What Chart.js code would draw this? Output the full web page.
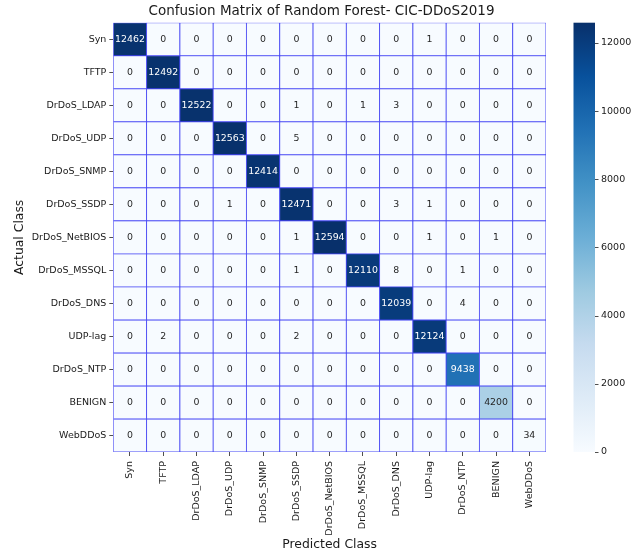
<!DOCTYPE html>
<html>
<head>
<meta charset="utf-8">
<script src="https://cdn.jsdelivr.net/npm/chart.js@4.4.1/dist/chart.umd.min.js"></script>
<style>
  html, body { margin: 0; padding: 0; background: #ffffff; }
  #wrap { width: 643px; height: 553px; }
</style>
</head>
<body>
<div id="wrap"><canvas id="cm" width="643" height="553"></canvas></div>
<script>
// Class names (rows = actual, columns = predicted)
const CLASSES = ['Syn', 'TFTP', 'DrDoS_LDAP', 'DrDoS_UDP', 'DrDoS_SNMP', 'DrDoS_SSDP',
  'DrDoS_NetBIOS', 'DrDoS_MSSQL', 'DrDoS_DNS', 'UDP-lag', 'DrDoS_NTP', 'BENIGN', 'WebDDoS'];

// Confusion-matrix counts, one row per actual class
const rowSyn     = [12462, 0, 0, 0, 0, 0, 0, 0, 0, 1, 0, 0, 0];
const rowTFTP    = [0, 12492, 0, 0, 0, 0, 0, 0, 0, 0, 0, 0, 0];
const rowLDAP    = [0, 0, 12522, 0, 0, 1, 0, 1, 3, 0, 0, 0, 0];
const rowUDP     = [0, 0, 0, 12563, 0, 5, 0, 0, 0, 0, 0, 0, 0];
const rowSNMP    = [0, 0, 0, 0, 12414, 0, 0, 0, 0, 0, 0, 0, 0];
const rowSSDP    = [0, 0, 0, 1, 0, 12471, 0, 0, 3, 1, 0, 0, 0];
const rowNetBIOS = [0, 0, 0, 0, 0, 1, 12594, 0, 0, 1, 0, 1, 0];
const rowMSSQL   = [0, 0, 0, 0, 0, 1, 0, 12110, 8, 0, 1, 0, 0];
const rowDNS     = [0, 0, 0, 0, 0, 0, 0, 0, 12039, 0, 4, 0, 0];
const rowUDPlag  = [0, 2, 0, 0, 0, 2, 0, 0, 0, 12124, 0, 0, 0];
const rowNTP     = [0, 0, 0, 0, 0, 0, 0, 0, 0, 0, 9438, 0, 0];
const rowBENIGN  = [0, 0, 0, 0, 0, 0, 0, 0, 0, 0, 0, 4200, 0];
const rowWebDDoS = [0, 0, 0, 0, 0, 0, 0, 0, 0, 0, 0, 0, 34];

// Colour-bar tick values
const CBAR_TICKS = [0, 2000, 4000, 6000, 8000, 10000, 12000];

const matrix = [rowSyn, rowTFTP, rowLDAP, rowUDP, rowSNMP, rowSSDP, rowNetBIOS,
  rowMSSQL, rowDNS, rowUDPlag, rowNTP, rowBENIGN, rowWebDDoS];
const VMAX = Math.max(...matrix.flat());

// "Blues" sequential colour map
const BLUES = ['#f7fbff', '#deebf7', '#c6dbef', '#9ecae1', '#6baed6',
  '#4292c6', '#2171b5', '#08519c', '#08306b'];
function hexToRgb(h) {
  return [parseInt(h.slice(1, 3), 16), parseInt(h.slice(3, 5), 16), parseInt(h.slice(5, 7), 16)];
}
function bluesRgb(t) {
  t = Math.min(1, Math.max(0, t));
  const pos = t * (BLUES.length - 1);
  const i = Math.min(BLUES.length - 2, Math.floor(pos));
  const f = pos - i;
  const a = hexToRgb(BLUES[i]), b = hexToRgb(BLUES[i + 1]);
  return a.map((v, k) => v + (b[k] - v) * f);
}
function rgbStr(c) { return `rgb(${c.map(Math.round).join(',')})`; }
function luminance(c) {
  const lin = c.map(v => { v /= 255; return v <= 0.03928 ? v / 12.92 : Math.pow((v + 0.055) / 1.055, 2.4); });
  return 0.2126 * lin[0] + 0.7152 * lin[1] + 0.0722 * lin[2];
}

const FONT = 'DejaVu Sans';
const TEXT = '#1a1a1a';

// One floating-bar dataset per row: each bar spans [row, row + 1] on the y scale
const datasets = matrix.map((row, r) => ({
  label: CLASSES[r],
  data: row.map(() => [r, r + 1]),
  backgroundColor: row.map(v => rgbStr(bluesRgb(v / VMAX))),
  borderColor: '#4444f4',
  borderWidth: 0.8,
  borderSkipped: false,
  barPercentage: 1,
  categoryPercentage: 1,
  grouped: false,
  yAxisID: 'y'
}));

// Writes each count in the middle of its cell
const cellLabels = {
  id: 'cellLabels',
  afterDatasetsDraw(chart) {
    const { ctx, scales: { x, y } } = chart;
    ctx.save();
    ctx.font = `9.4px "${FONT}"`;
    ctx.textAlign = 'center';
    ctx.textBaseline = 'middle';
    matrix.forEach((row, r) => {
      row.forEach((v, c) => {
        const col = bluesRgb(v / VMAX);
        ctx.fillStyle = luminance(col) > 0.408 ? '#262626' : '#ffffff';
        ctx.fillText(String(v), x.getPixelForValue(c), y.getPixelForValue(r + 0.5) + 0.5);
      });
    });
    ctx.restore();
  }
};

// Gradient strip and tick marks for the colour-bar axis
const colorBar = {
  id: 'colorBar',
  afterDraw(chart) {
    const s = chart.scales.cbar;
    const { ctx } = chart;
    const x0 = s.left + 27.5, w = 21.5;
    const yBottom = s.getPixelForValue(0), yTop = s.getPixelForValue(VMAX);
    const g = ctx.createLinearGradient(0, yBottom, 0, yTop);
    BLUES.forEach((c, i) => g.addColorStop(i / (BLUES.length - 1), c));
    ctx.save();
    ctx.fillStyle = g;
    ctx.fillRect(x0, yTop, w, yBottom - yTop);
    ctx.strokeStyle = '#222';
    ctx.lineWidth = 0.8;
    CBAR_TICKS.forEach(v => {
      const py = Math.round(s.getPixelForValue(v)) + 0.5;
      ctx.beginPath();
      ctx.moveTo(x0 + w, py);
      ctx.lineTo(x0 + w + 3.5, py);
      ctx.stroke();
    });
    ctx.restore();
  }
};

// Fixed box sizes; no extra edge padding requested by the axes
function fixBox(w, h) {
  return function (s) {
    if (w !== null) s.width = w;
    if (h !== null) s.height = h;
    s.paddingTop = 0; s.paddingBottom = 0; s.paddingLeft = 0; s.paddingRight = 0;
  };
}

new Chart(document.getElementById('cm'), {
  type: 'bar',
  data: { labels: CLASSES, datasets },
  plugins: [cellLabels, colorBar],
  options: {
    responsive: false,
    animation: false,
    events: [],
    layout: { padding: 0 },
    plugins: {
      legend: { display: false },
      tooltip: { enabled: false },
      title: {
        display: true,
        text: 'Confusion Matrix of Random Forest- CIC-DDoS2019',
        color: TEXT,
        font: { family: FONT, size: 13.5, weight: 'normal', lineHeight: 1.2 },
        padding: { top: 3, bottom: 3.5 }
      }
    },
    scales: {
      x: {
        type: 'category',
        offset: true,
        grid: { drawOnChartArea: false, drawTicks: true, tickLength: 4, offset: false, color: '#222', lineWidth: 0.8 },
        border: { display: false },
        ticks: {
          autoSkip: false, minRotation: 90, maxRotation: 90, padding: 5,
          color: TEXT, font: { family: FONT, size: 9.5 }
        },
        title: {
          display: true, text: 'Predicted Class', color: TEXT,
          font: { family: FONT, size: 12.4, lineHeight: 1.2 },
          padding: { top: 0, bottom: 0.6 }
        },
        afterFit: fixBox(null, 101)
      },
      y: {
        type: 'linear',
        position: 'left',
        min: 0,
        max: CLASSES.length,
        reverse: true,
        afterBuildTicks(s) { s.ticks = CLASSES.map((_, i) => ({ value: i + 0.5 })); },
        grid: { drawOnChartArea: false, drawTicks: true, tickLength: 4, color: '#222', lineWidth: 0.8 },
        border: { display: false },
        ticks: {
          autoSkip: false, padding: 3, color: TEXT,
          font: { family: FONT, size: 9.5 },
          callback: v => CLASSES[Math.floor(v)]
        },
        title: {
          display: true, text: 'Actual Class', color: TEXT,
          font: { family: FONT, size: 12.4, lineHeight: 1.2 },
          padding: { top: 12.6, bottom: 0 }
        },
        afterFit: fixBox(113.3, null)
      },
      cbar: {
        type: 'linear',
        axis: 'y',
        position: 'right',
        min: 0,
        max: VMAX,
        afterBuildTicks(s) { s.ticks = CBAR_TICKS.map(v => ({ value: v })); },
        grid: { display: false, drawTicks: false },
        border: { display: false },
        ticks: {
          padding: 55, color: TEXT, font: { family: FONT, size: 9.5 },
          callback: v => String(v)
        },
        afterFit: fixBox(97, null)
      }
    }
  }
});
</script>
</body>
</html>
